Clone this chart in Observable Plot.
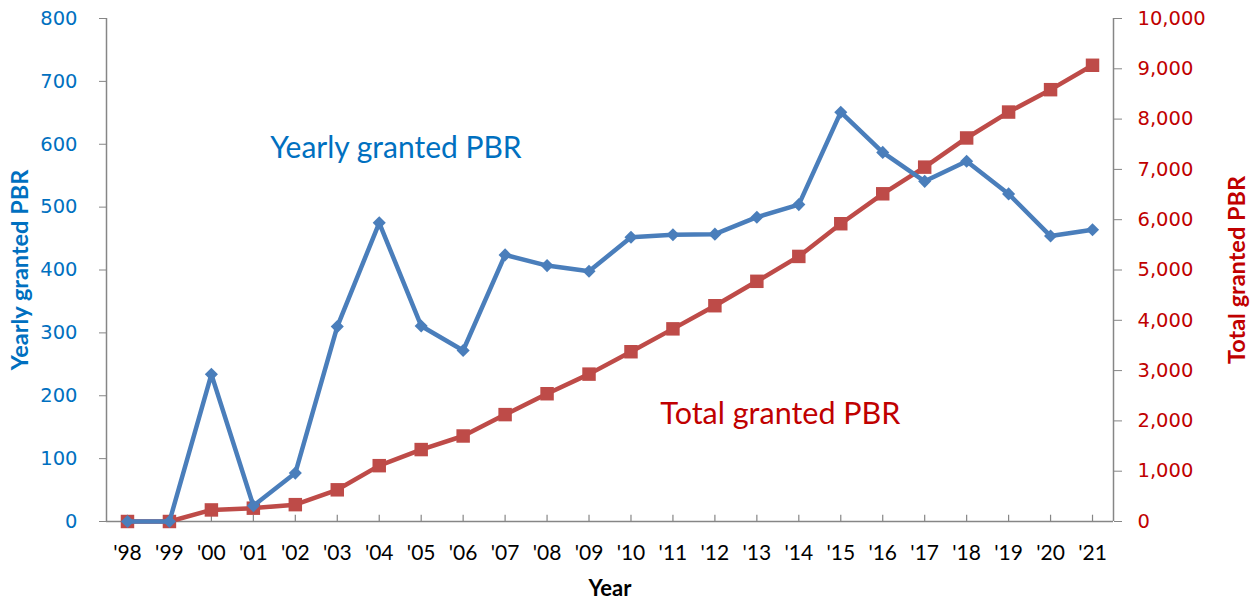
<!DOCTYPE html>
<html>
<head>
<meta charset="utf-8">
<script src="https://cdn.jsdelivr.net/npm/d3@7"></script>
<script src="https://cdn.jsdelivr.net/npm/@observablehq/plot@0.6"></script>
<style>
  html, body { margin: 0; padding: 0; background: #fff; }
  #chart svg { display: block; }
</style>
</head>
<body>
<div id="chart"></div>
<script>
// Data
const years = ["'98","'99","'00","'01","'02","'03","'04","'05","'06","'07","'08","'09","'10","'11","'12","'13","'14","'15","'16","'17","'18","'19","'20","'21"];
const yearly = [0, 0, 234, 25, 77, 310, 475, 311, 272, 424, 407, 398, 452, 456, 457, 484, 504, 651, 587, 541, 573, 521, 454, 464];
const total = [0, 0, 230, 265, 335, 630, 1110, 1430, 1700, 2125, 2540, 2930, 3375, 3830, 4290, 4775, 5270, 5920, 6515, 7045, 7625, 8140, 8585, 9070];
const leftTicks = [0, 100, 200, 300, 400, 500, 600, 700, 800];
const rightTicks = [0, 1000, 2000, 3000, 4000, 5000, 6000, 7000, 8000, 9000, 10000];

const leftMax = 800, rightMax = 10000;
const k = leftMax / rightMax; // maps right-axis values onto the left scale

const rows = years.map((y, i) => ({i, year: y, yearly: yearly[i], total: total[i]}));

const BLUE_LINE = "#4A7EBB", RED_LINE = "#BE4B48";
const BLUE_TXT = "#0070C0", RED_TXT = "#C00000", GRAY = "#868686";

const chart = Plot.plot({
  width: 1258,
  height: 610,
  marginLeft: 106,
  marginRight: 145,
  marginTop: 18,
  marginBottom: 89,
  x: {type: "linear", domain: [-0.5, years.length - 0.5]},
  y: {domain: [0, leftMax]},
  marks: [
    // axis lines
    Plot.ruleY([0], {stroke: GRAY, strokeWidth: 1.5}),
    Plot.ruleX([-0.5, years.length - 0.5], {stroke: GRAY, strokeWidth: 1.5}),
    // inward x ticks
    Plot.ruleX(d3.range(years.length), {y1: 0, y2: 10, stroke: GRAY, strokeWidth: 1.2}),
    // left axis
    Plot.axisY({
      ticks: leftTicks, tickSize: 7, tickPadding: 22, stroke: GRAY,
      fill: BLUE_TXT, fontSize: 19.5, fontFamily: "DejaVu Sans", label: null
    }),
    // right axis
    Plot.axisY({
      anchor: "right", ticks: rightTicks.map(v => v * k), tickSize: 8, tickPadding: 16,
      tickFormat: v => d3.format(",")(Math.round(v / k)),
      stroke: GRAY, fill: RED_TXT, fontSize: 19.5, fontFamily: "DejaVu Sans", label: null
    }),
    // x axis labels
    Plot.axisX({
      ticks: d3.range(years.length), tickFormat: i => years[i], tickSize: 0, tickPadding: 24,
      fill: "#000", fontSize: 21, fontFamily: "Lato", label: null
    }),
    // axis titles
    Plot.text(["Yearly granted PBR"], {frameAnchor: "left", dx: -86, rotate: -90, textAnchor: "middle", fill: BLUE_TXT, fontSize: 23.5, fontWeight: "bold", fontFamily: "Lato"}),
    Plot.text(["Total granted PBR"], {frameAnchor: "right", dx: 124, rotate: -90, textAnchor: "middle", fill: RED_TXT, fontSize: 23.5, fontWeight: "bold", fontFamily: "Lato"}),
    Plot.text(["Year"], {frameAnchor: "bottom", dy: 74, fill: "#000", fontSize: 22, fontWeight: "bold", fontFamily: "Lato"}),
    // total series (mapped to left scale)
    Plot.line(rows, {x: "i", y: d => d.total * k, stroke: RED_LINE, strokeWidth: 4.5}),
    Plot.dot(rows, {x: "i", y: d => d.total * k, symbol: "square", r: 7.6, fill: RED_LINE, stroke: "none"}),
    // yearly series
    Plot.line(rows, {x: "i", y: "yearly", stroke: BLUE_LINE, strokeWidth: 4.5}),
    Plot.dot(rows, {x: "i", y: "yearly", symbol: "diamond2", r: 5.9, fill: BLUE_LINE, stroke: "none"}),
    // annotations
    Plot.text(["Yearly granted PBR"], {x: 3.4, y: 594, textAnchor: "start", lineAnchor: "middle", fill: BLUE_TXT, fontSize: 30, fontFamily: "Lato"}),
    Plot.text(["Total granted PBR"], {x: 12.7, y: 171, textAnchor: "start", lineAnchor: "middle", fill: RED_TXT, fontSize: 30.5, fontFamily: "Lato"})
  ]
});
document.getElementById("chart").appendChild(chart);
</script>
</body>
</html>
